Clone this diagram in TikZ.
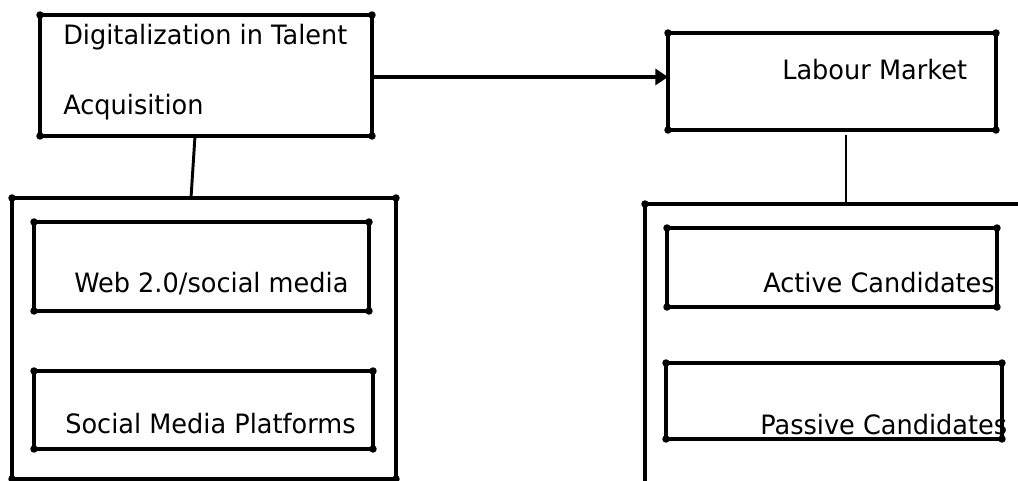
\documentclass[tikz,border=0pt]{standalone}
\usepackage{fontspec}
\setmainfont{DejaVu Sans}[FakeStretch=0.96]
\usetikzlibrary{arrows.meta}
\newdimen\upx \upx=0.75pt
\begin{document}
\begin{tikzpicture}[x=0.75pt,y=-0.75pt,
  boxnode/.style={draw,line width=2.7pt,rectangle,inner sep=0pt,outer sep=0pt},
  lbl/.style={anchor=base west,inner sep=0pt,font=\fontsize{20}{24}\selectfont},
  conn/.style={line width=2.2pt},
  arr/.style={line width=3.2pt,-{Triangle[length=9.5pt,width=12pt]}}]
\useasboundingbox (0,0) rectangle (1018,481);
\clip (0,0) rectangle (1018,481);
% boxes
\node[boxnode,minimum width=332\upx,minimum height=121\upx] (dig) at (206,75.5) {};
\node[boxnode,minimum width=328\upx,minimum height=97\upx] (lab) at (832,81.5) {};
\node[boxnode,minimum width=384\upx,minimum height=281\upx] (lbig) at (204,338.5) {};
\node[boxnode,minimum width=460\upx,minimum height=360\upx] (rbig) at (875,384) {};
\node[boxnode,minimum width=335\upx,minimum height=89\upx] (web) at (201.5,266.5) {};
\node[boxnode,minimum width=339\upx,minimum height=78\upx] (smp) at (203.5,410) {};
\node[boxnode,minimum width=330\upx,minimum height=79\upx] (act) at (832,267.5) {};
\node[boxnode,minimum width=336\upx,minimum height=76\upx] (pas) at (834,401) {};
% corner dots
\foreach \n in {dig,lab,lbig,rbig,web,smp,act,pas}
  \foreach \a in {north west,north east,south west,south east}
    \fill (\n.\a) circle (2.8pt);
% labels
\node[lbl] (t1) at (63,45) {Digitalization in Talent};
\node[lbl] (t2) at (63,115) {Acquisition};
\node[lbl] (t3) at (782,80) {Labour Market};
\node[lbl] (t4) at (74,292) {Web 2.0/social media};
\node[lbl] (t5) at (65,433) {Social Media Platforms};
\node[lbl] (t6) at (763,292) {Active Candidates};
\node[lbl] (t7) at (760,434) {Passive Candidates};
% connectors
\coordinate (a0) at ([yshift=-1.1pt]dig.east);
\draw[arr] (a0) -- (lab.west |- a0);
\draw[conn] ([xshift=-11\upx]dig.south) -- ([xshift=-13\upx]lbig.north);
\coordinate (b0) at ([xshift=14\upx,yshift=-5\upx]lab.south);
\draw[conn] (b0) -- (b0 |- rbig.north);
\end{tikzpicture}
\end{document}
